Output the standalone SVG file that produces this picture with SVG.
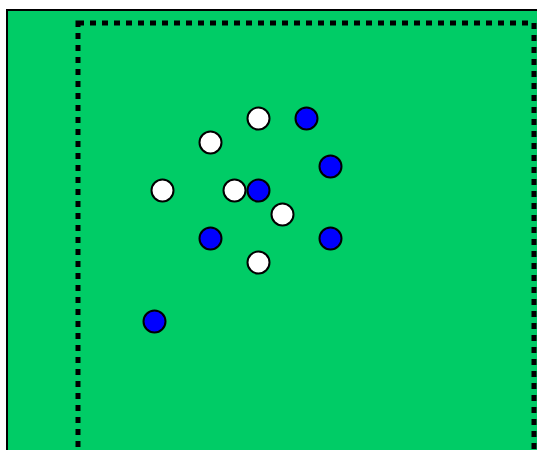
<svg xmlns="http://www.w3.org/2000/svg" width="537" height="450" viewBox="0 0 537 450">
<style>
.w{fill:#FFFFFF;stroke:#000;stroke-width:2}
.b{fill:#0000FF;stroke:#000;stroke-width:2}
</style>
<rect x="7" y="10" width="600" height="500" fill="#00CC66" stroke="#000" stroke-width="2"/>
<rect x="78" y="23" width="456" height="500" fill="none" stroke="#000" stroke-width="5" stroke-dasharray="6 6"/>
<g id="nodes" transform="translate(0.5 0.5)">
<circle id="n1" class="w" cx="258" cy="118" r="11"/>
<circle id="n2" class="b" cx="306" cy="118" r="11"/>
<circle id="n3" class="w" cx="210" cy="142" r="11"/>
<circle id="n4" class="b" cx="330" cy="166" r="11"/>
<circle id="n5" class="w" cx="162" cy="190" r="11"/>
<circle id="n6" class="w" cx="234" cy="190" r="11"/>
<circle id="n7" class="b" cx="258" cy="190" r="11"/>
<circle id="n8" class="w" cx="282" cy="214" r="11"/>
<circle id="n9" class="b" cx="210" cy="238" r="11"/>
<circle id="n10" class="b" cx="330" cy="238" r="11"/>
<circle id="n11" class="w" cx="258" cy="262" r="11"/>
<circle id="n12" class="b" cx="154" cy="321" r="11"/>
</g>
<g id="connectors"/>
</svg>
